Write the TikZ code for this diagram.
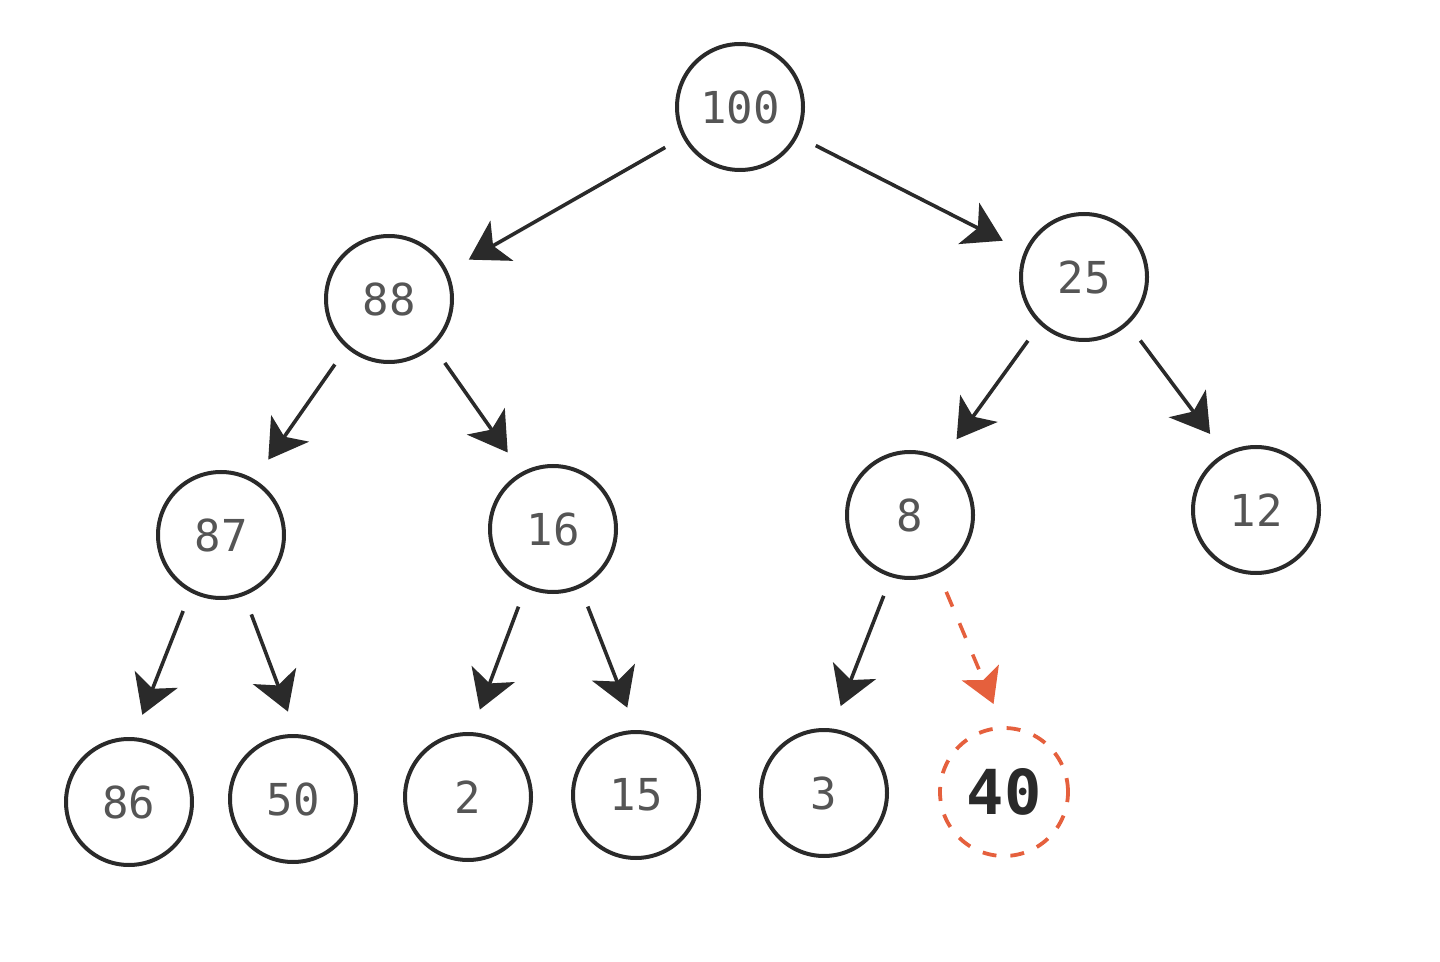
\documentclass[tikz,border=0pt]{standalone}
\usepackage{fontspec}
\newfontfamily\monofont{DejaVu Sans Mono}
\usetikzlibrary{arrows.meta}
\definecolor{ink}{HTML}{2A2A2A}
\definecolor{txt}{HTML}{555555}
\definecolor{hl}{HTML}{E5603D}
\tikzset{
  heapnode/.style={circle, draw=ink, line width=2pt, minimum size=63pt, inner sep=0pt,
    font=\monofont\fontsize{22}{22}\selectfont, text=txt},
  newnode/.style={circle, draw=hl, line width=1.9pt, dash pattern=on 7pt off 7pt, minimum size=64pt, inner sep=0pt,
    font=\monofont\bfseries\fontsize{31}{31}\selectfont, text=ink},
  arr/.style={draw=ink, line width=1.8pt, shorten <=10pt, shorten >=12pt,
    -{Stealth[length=19pt, width=23pt, inset=5pt]}},
  newarr/.style={draw=hl, line width=1.8pt, dash pattern=on 8pt off 9pt, shorten <=10pt, shorten >=12pt,
    -{Stealth[length=17pt, width=20pt, inset=4pt, fill=hl]}}
}
\begin{document}
\begin{tikzpicture}[x=0.5pt, y=-0.5pt]
\useasboundingbox (0,0) rectangle (1440,962);
\node[heapnode] (n100) at (740,107) {100};
\node[heapnode] (n88) at (389,299) {88};
\node[heapnode] (n25) at (1084,277) {25};
\node[heapnode] (n87) at (221,535) {87};
\node[heapnode] (n16) at (553,529) {16};
\node[heapnode] (n8) at (910,515) {8};
\node[heapnode] (n12) at (1256,510) {12};
\node[heapnode] (n86) at (129,802) {86};
\node[heapnode] (n50) at (293,799) {50};
\node[heapnode] (n2) at (468,797) {2};
\node[heapnode] (n15) at (636,795) {15};
\node[heapnode] (n3) at (824,793) {3};
\node[newnode] (n40) at (1004,792) {40};

\draw[arr] (n100.-152) -- (n88.25);
\draw[arr] (n100.-27) -- (n25.157);
\draw[arr] (n88.-131) -- (n87.59);
\draw[arr] (n88.-47) -- (n16.119);
\draw[arr] (n25.-133) -- (n8.60);
\draw[arr] (n25.-47) -- (n12.119);
\draw[arr] (n87.-118) -- (n86.86);
\draw[arr] (n87.-69) -- (n50.87);
\draw[arr] (n16.-115) -- (n2.87);
\draw[arr] (n16.-65) -- (n15.90);
\draw[arr] (n8.-107) -- (n3.83);
\draw[newarr] (n8.-64) -- (n40.91);
\end{tikzpicture}
\end{document}
